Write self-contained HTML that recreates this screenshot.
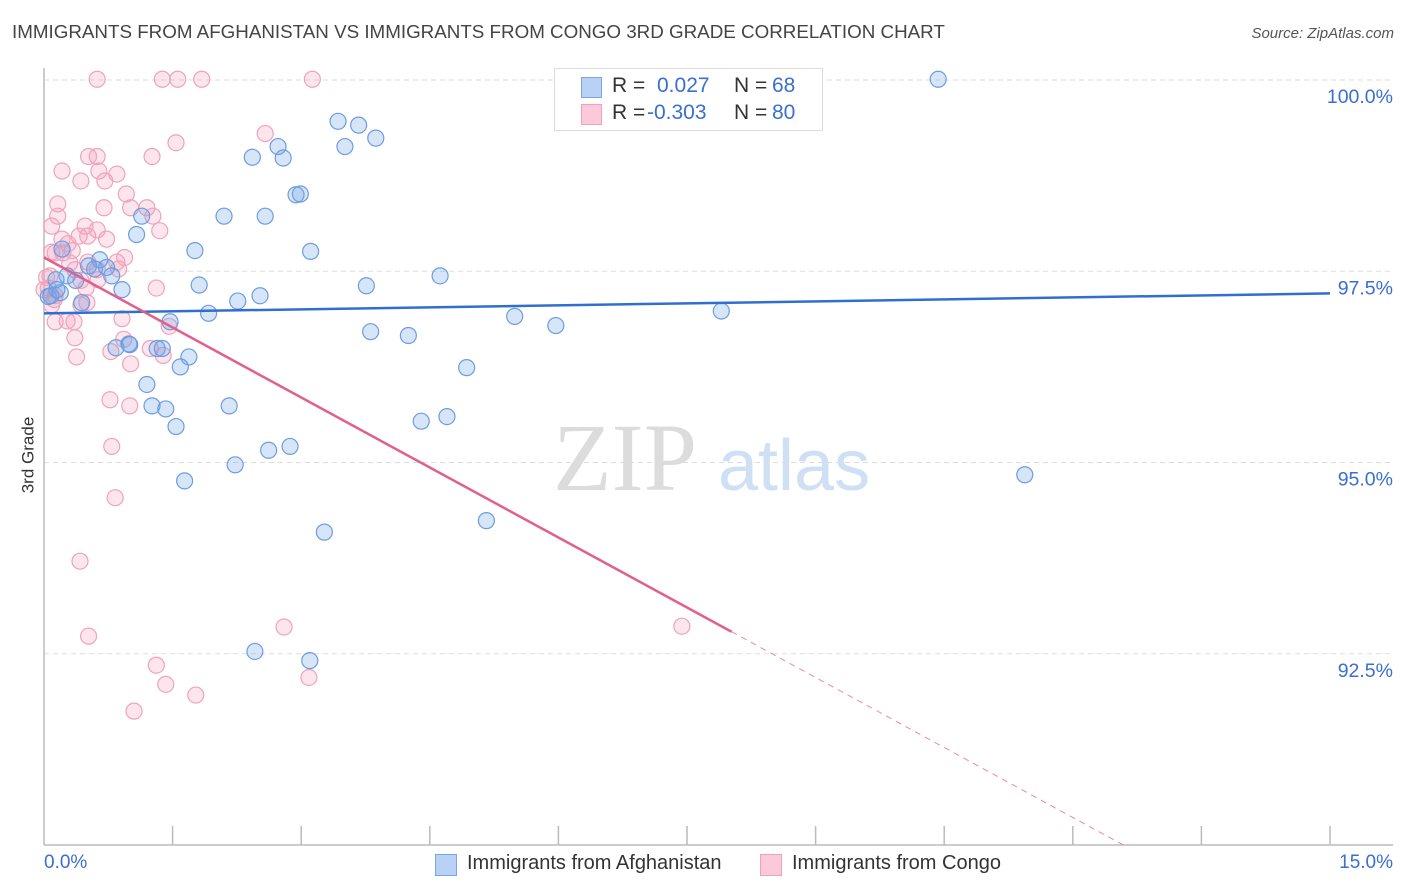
<!DOCTYPE html>
<html><head><meta charset="utf-8"><style>
body{margin:0;background:#fff;font-family:"Liberation Sans",sans-serif;}
#wrap{position:relative;width:1406px;height:892px;overflow:hidden;}
.t{position:absolute;white-space:nowrap;}
</style></head><body>
<div id="wrap">
<div class="t" style="left:12px;top:21px;font-size:18.8px;color:#444;">IMMIGRANTS FROM AFGHANISTAN VS IMMIGRANTS FROM CONGO 3RD GRADE CORRELATION CHART</div>
<div class="t" style="right:12px;top:25px;font-size:15px;color:#555;font-style:italic;">Source: ZipAtlas.com</div>
<div class="t" style="left:-10px;top:445px;font-size:17px;color:#333;transform:rotate(-90deg);">3rd Grade</div>
<svg id="svg" width="1406" height="892" style="position:absolute;left:0;top:0"></svg>
<div class="t" style="left:554px;top:68px;width:267px;height:61px;border:1px solid #ddd;background:#fff;font-size:21px;">
  <div style="position:absolute;left:26px;top:8px;width:19px;height:19px;background:#b9d1f5;border:1px solid #7aa6e6;"></div>
  <div class="t" style="left:57px;top:5px;color:#333;">R = </div>
  <div class="t" style="left:102px;top:5px;color:#3a6fd0;">0.027</div>
  <div class="t" style="left:179px;top:5px;color:#333;">N =</div>
  <div class="t" style="left:217px;top:5px;color:#3a6fd0;">68</div>
  <div style="position:absolute;left:26px;top:35px;width:19px;height:19px;background:#fbc9d9;border:1px solid #f1a0bb;"></div>
  <div class="t" style="left:57px;top:32px;color:#333;">R = </div>
  <div class="t" style="left:92px;top:32px;color:#3a6fd0;">-0.303</div>
  <div class="t" style="left:179px;top:32px;color:#333;">N =</div>
  <div class="t" style="left:217px;top:32px;color:#3a6fd0;">80</div>
</div>
<div class="t" style="left:44px;top:852px;font-size:19px;color:#3a6fd0;">0.0%</div>
<div class="t" style="right:13px;top:852px;font-size:19px;color:#3a6fd0;">15.0%</div>
<div style="position:absolute;left:435px;top:854px;width:20px;height:20px;background:#b9d1f5;border:1px solid #7aa6e6;"></div>
<div class="t" style="left:467px;top:852px;font-size:20px;color:#333;">Immigrants from Afghanistan</div>
<div style="position:absolute;left:760px;top:854px;width:20px;height:20px;background:#fbc9d9;border:1px solid #f1a0bb;"></div>
<div class="t" style="left:792px;top:852px;font-size:20px;color:#333;">Immigrants from Congo</div>
</div>
<script>
const yTicks=[100,97.5,95,92.5];
const yTickLabels=["100.0%","97.5%","95.0%","92.5%"];
const blueX=[6.87,10.43,3.43,3.67,3.87,3.51,2.73,2.79,2.43,2.94,2.99,2.10,2.58,1.14,1.08,1.76,3.11,0.21,0.65,0.52,0.73,0.79,0.27,0.37,4.62,3.76,1.81,0.91,0.15,0.05,2.52,2.26,0.44,1.92,5.49,5.97,7.90,1.47,3.81,4.25,0.84,1.00,1.32,1.38,1.69,1.59,4.93,1.20,1.26,1.42,2.16,4.70,4.40,1.54,2.87,2.62,2.23,1.64,11.44,5.16,3.27,2.46,3.10,0.08,0.19,0.59,0.14,0.99];
const blueY=[100.01,100.01,99.46,99.41,99.24,99.13,99.13,98.98,98.99,98.50,98.51,98.22,98.22,98.22,97.98,97.77,97.76,97.79,97.65,97.57,97.55,97.44,97.44,97.38,97.44,97.31,97.32,97.26,97.26,97.17,97.18,97.11,97.09,96.95,96.91,96.79,96.98,96.84,96.71,96.66,96.50,96.54,96.49,96.49,96.38,96.25,96.24,96.02,95.74,95.70,95.74,95.60,95.54,95.47,95.21,95.16,94.97,94.76,94.84,94.24,94.09,92.53,92.41,97.18,97.22,97.53,97.39,96.55];
const pinkX=[0.62,1.38,1.56,1.84,3.13,2.58,1.54,1.26,0.52,0.62,0.21,0.85,0.64,0.43,0.71,0.96,0.16,1.01,0.70,1.20,1.27,0.16,0.48,0.09,0.62,1.35,0.51,0.41,0.21,0.73,0.13,0.22,0.30,0.94,0.85,0.51,0.36,0.62,0.03,0.43,0.63,0.05,0.49,1.31,0.12,0.50,0.43,0.91,0.13,0.35,0.27,1.46,0.93,0.36,0.78,1.39,0.38,1.01,0.77,1.00,0.79,0.83,0.42,0.52,2.80,7.44,1.31,1.42,3.09,1.77,1.05,0.07,0.00,0.09,0.87,1.24,0.09,0.28,0.13,0.33];
const pinkY=[100.01,100.01,100.01,100.01,100.01,99.30,99.18,99.0,99.0,99.0,98.81,98.77,98.81,98.68,98.68,98.51,98.38,98.33,98.33,98.33,98.22,98.22,98.09,98.09,98.04,98.03,97.96,97.96,97.92,97.92,97.74,97.74,97.61,97.68,97.62,97.62,97.52,97.52,97.42,97.38,97.39,97.28,97.28,97.28,97.13,97.09,97.06,96.88,96.84,96.84,96.85,96.78,96.61,96.63,96.45,96.40,96.38,96.29,95.82,95.74,95.21,94.54,93.71,92.73,92.85,92.86,92.35,92.10,92.19,91.96,91.75,97.44,97.26,97.06,97.53,96.49,97.75,97.86,97.18,97.77];
const blueTrend=[96.95,97.21];
const pinkTrend=[97.68,-0.61];
const X0=44,X1=1330,YT=80,YB=845;
const sx=v=>X0+v/15*(X1-X0);
const sy=v=>YB-(v-90)/10*(YB-YT);
const NS="http://www.w3.org/2000/svg";
const svg=document.getElementById('svg');
function mk(tag,attrs){const e=document.createElementNS(NS,tag);for(const k in attrs)e.setAttribute(k,attrs[k]);svg.appendChild(e);return e;}
yTicks.forEach((t,i)=>{
 const g=mk('line',{x1:X0,x2:1393,y1:sy(t),y2:sy(t),stroke:'#ddd','stroke-dasharray':'5,4'});
 
 
 const tx=mk('text',{x:1393,y:sy(t)+23,'text-anchor':'end','font-size':19.5,fill:'#3a6fd0','font-family':'Liberation Sans, sans-serif'});
 tx.textContent=yTickLabels[i];
 
 
});
const wm1=mk('text',{x:553,y:490,'font-size':96,fill:'#dcdcdc','font-family':'Liberation Serif, serif'});wm1.textContent='ZIP';


const wm2=mk('text',{x:718,y:490,'font-size':72,fill:'#cfe0f5','font-family':'Liberation Sans, sans-serif'});wm2.textContent='atlas';


mk('line',{x1:X0,x2:X0,y1:68,y2:YB,stroke:'#bbb','stroke-width':1.5});
mk('line',{x1:X0,x2:1393,y1:YB,y2:YB,stroke:'#bbb','stroke-width':1.5});
for(let i=1;i<=10;i++){const x=sx(i*1.5);mk('line',{x1:x,x2:x,y1:826,y2:YB,stroke:'#bbb','stroke-width':1.5});}
pinkX.forEach((v,i)=>{const c=mk('circle',{cx:sx(v),cy:sy(pinkY[i]),r:8,fill:'rgba(245,160,190,0.28)',stroke:'#eea3bd','stroke-width':1.2});
 
 });
blueX.forEach((v,i)=>{const c=mk('circle',{cx:sx(v),cy:sy(blueY[i]),r:8,fill:'rgba(110,160,230,0.28)',stroke:'#6d9de0','stroke-width':1.2});
 
 });
const bl=mk('line',{x1:sx(0),x2:sx(15),y1:sy(blueTrend[0]),y2:sy(blueTrend[1]),stroke:'#2f6fd0','stroke-width':2.5});


const pAt=x=>pinkTrend[0]+pinkTrend[1]*x;
const pl=mk('line',{x1:sx(0),x2:sx(8.02),y1:sy(pAt(0)),y2:sy(pAt(8.02)),stroke:'#e0608e','stroke-width':2.5});


const xEnd=(pinkTrend[0]-90)/-pinkTrend[1];
const pd=mk('line',{x1:sx(8.02),x2:sx(xEnd),y1:sy(pAt(8.02)),y2:sy(90),stroke:'#e88aab','stroke-width':1,'stroke-dasharray':'6,5'});


</script>
</body></html>
